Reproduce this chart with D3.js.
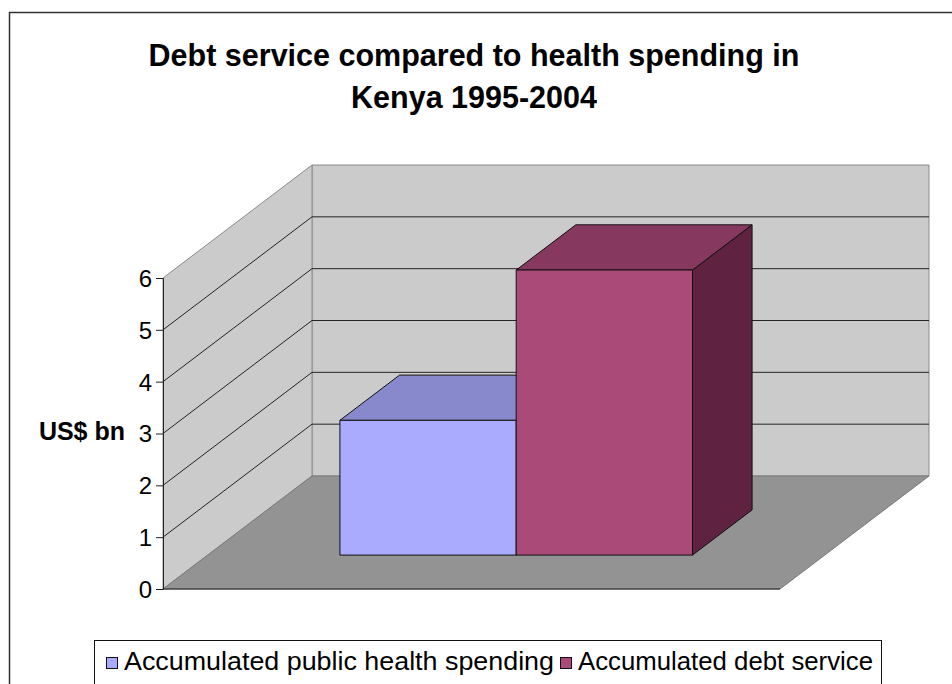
<!DOCTYPE html>
<html>
<head>
<meta charset="utf-8">
<script src="https://cdn.jsdelivr.net/npm/d3@7"></script>
<style>
  html, body { margin: 0; padding: 0; background: #fff; }
  svg { display: block; }
  text { font-family: "Liberation Sans", Arial, sans-serif; fill: #000; }
</style>
</head>
<body>
<svg id="chart" width="952" height="684"></svg>
<script>
// Chart data
const titleLines = ["Debt service compared to health spending in", "Kenya 1995-2004"];
const categories = ["Kenya 1995-2004"];
const seriesNames = ["Accumulated public health spending", "Accumulated debt service"];
const seriesValues = [2.6, 5.5];
const yTicks = [0, 1, 2, 3, 4, 5, 6];
const yLabel = "US$ bn";

// Face colours per series: front, top, side
const frontColors = ["#AAAAFF", "#AA4A78"];
const topColors = ["#8889CC", "#86385E"];
const sideColors = ["#555580", "#5F2341"];

const svg = d3.select("#chart");

// Plot geometry: front plane of the floor and depth offset of the 3D box
const plotLeft = 163, plotRight = 780;
const depthDX = 149, depthDY = -113;

const y = d3.scaleLinear().domain([0, 6]).range([589, 278]);
const xCat = d3.scaleBand().domain(categories).range([plotLeft, plotRight]);
const xSer = d3.scaleBand().domain(seriesNames)
  .range([xCat(categories[0]), xCat(categories[0]) + xCat.bandwidth()])
  .paddingOuter(0.75).paddingInner(0);
const depth = d3.scaleLinear().domain([0, 1]).range([0, 1]);

// project a point (front x, value, depth 0..1) to screen
function P(x, v, d) {
  const t = depth(d);
  return [x + depthDX * t, y(v) + depthDY * t];
}
const poly = pts => "M" + pts.map(p => p.join(",")).join("L") + "Z";

// Outer chart frame
svg.append("rect")
  .attr("x", 9.5).attr("y", 12.5).attr("width", 980).attr("height", 700)
  .attr("fill", "#fff").attr("stroke", "#333").attr("stroke-width", 1.5);

// Title
svg.append("g").selectAll("text").data(titleLines).join("text")
  .attr("x", 474).attr("y", (d, i) => 66 + i * 42)
  .attr("text-anchor", "middle")
  .attr("font-size", 30.5).attr("font-weight", "bold")
  .text(d => d);

const yMax = yTicks[yTicks.length - 1];

// Walls and floor
svg.append("path")
  .attr("d", poly([P(plotLeft, 0, 1), P(plotRight, 0, 1), P(plotRight, yMax, 1), P(plotLeft, yMax, 1)]))
  .attr("fill", "#CBCBCB").attr("stroke", "#8a8a8a").attr("stroke-width", 1);
svg.append("path")
  .attr("d", poly([P(plotLeft, 0, 0), P(plotLeft, yMax, 0), P(plotLeft, yMax, 1), P(plotLeft, 0, 1)]))
  .attr("fill", "#CBCBCB").attr("stroke", "#8a8a8a").attr("stroke-width", 1);
svg.append("path")
  .attr("d", poly([P(plotLeft, 0, 0), P(plotRight, 0, 0), P(plotRight, 0, 1), P(plotLeft, 0, 1)]))
  .attr("fill", "#939393").attr("stroke", "#7a7a7a").attr("stroke-width", 1);

// Gridlines across the side wall and back wall
const grid = svg.append("g").attr("fill", "none").attr("stroke", "#111").attr("stroke-width", 1);
yTicks.filter(v => v > 0 && v < yMax).forEach(v => {
  grid.append("path").attr("d", "M" + [P(plotLeft, v, 0), P(plotLeft, v, 1), P(plotRight, v, 1)].map(p => p.join(",")).join("L"))
    .attr("stroke-width", 0.9);
});

// Floor front edge
svg.append("line")
  .attr("x1", plotLeft).attr("x2", plotRight).attr("y1", y(0)).attr("y2", y(0))
  .attr("stroke", "#222").attr("stroke-width", 1);

// Value axis
const axis = d3.axisLeft(y).tickValues(yTicks).tickSize(7).tickPadding(4).tickFormat(d3.format("d"));
const axisG = svg.append("g").attr("transform", `translate(${plotLeft},0)`).call(axis);
axisG.select(".domain").attr("stroke", "#222");
axisG.selectAll(".tick line").attr("stroke", "#222");
axisG.selectAll(".tick text")
  .attr("font-family", "'Liberation Sans', Arial, sans-serif")
  .attr("font-size", 24).attr("fill", "#000").attr("dy", "0.35em");

svg.append("text")
  .attr("x", 125).attr("y", 440).attr("text-anchor", "end")
  .attr("font-size", 25).attr("font-weight", "bold")
  .text(yLabel);

// 3D columns
const d0 = 0.3, d1 = 0.7;
const bars = svg.append("g").attr("stroke", "#111").attr("stroke-width", 1).attr("stroke-linejoin", "round");
seriesNames.forEach((name, i) => {
  const v = seriesValues[i];
  const x0 = xSer(name), x1 = x0 + xSer.bandwidth();
  bars.append("path")
    .attr("d", poly([P(x1, 0, d0), P(x1, v, d0), P(x1, v, d1), P(x1, 0, d1)]))
    .attr("fill", sideColors[i]);
  bars.append("path")
    .attr("d", poly([P(x0, v, d0), P(x1, v, d0), P(x1, v, d1), P(x0, v, d1)]))
    .attr("fill", topColors[i]);
  bars.append("path")
    .attr("d", poly([P(x0, 0, d0), P(x1, 0, d0), P(x1, v, d0), P(x0, v, d0)]))
    .attr("fill", frontColors[i]);
});

// Legend: entries spread to fill the box
const legendTextWidths = [430, 295];
const legend = svg.append("g");
legend.append("rect")
  .attr("x", 94.5).attr("y", 640.5).attr("width", 787).attr("height", 80)
  .attr("fill", "#fff").attr("stroke", "#111").attr("stroke-width", 1);
let lx = 106;
seriesNames.forEach((name, i) => {
  legend.append("rect")
    .attr("x", lx + 0.5).attr("y", 657.5).attr("width", 11).attr("height", 11)
    .attr("fill", frontColors[i]).attr("stroke", "#111").attr("stroke-width", 1);
  legend.append("text")
    .attr("x", lx + 18).attr("y", 670)
    .attr("font-size", 25)
    .attr("textLength", legendTextWidths[i]).attr("lengthAdjust", "spacingAndGlyphs")
    .text(name);
  lx = lx + 18 + legendTextWidths[i] + 6;
});
</script>
</body>
</html>
